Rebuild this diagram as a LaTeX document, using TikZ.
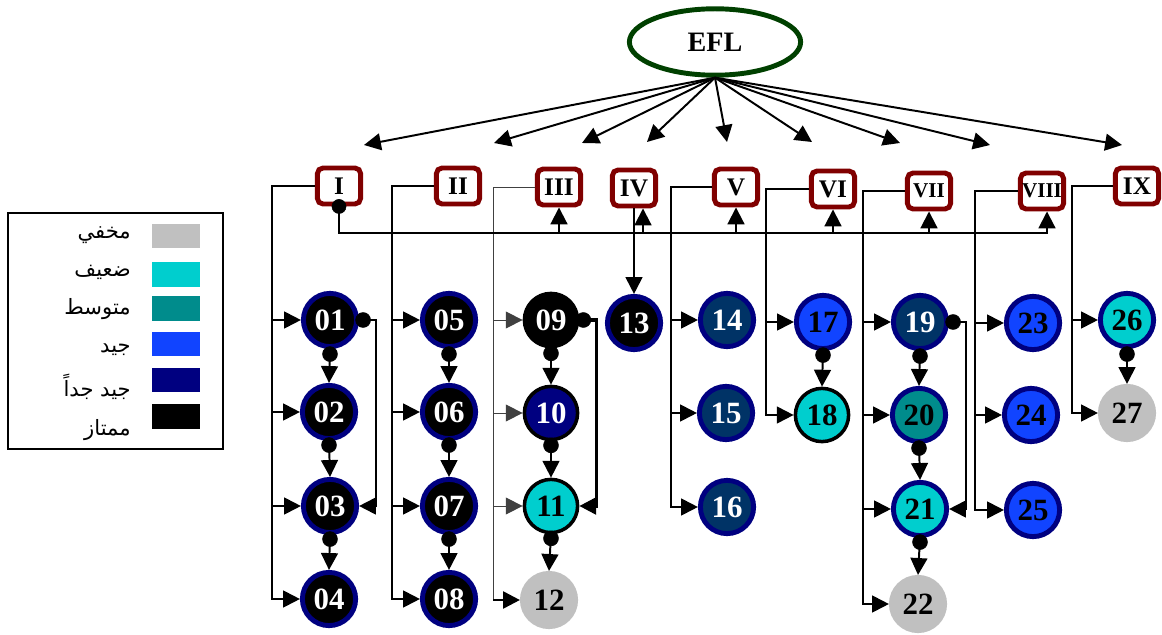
\documentclass[tikz,border=0pt]{standalone}
\usepackage{fontspec}
\setmainfont{Liberation Serif}
\newfontfamily\arabicfont[Script=Arabic]{DejaVu Sans}
\TeXXeTstate=1
\usepackage{xcolor}
\usepackage{tikz}
\usetikzlibrary{arrows.meta,shapes,calc}

\definecolor{eflgreen}{RGB}{0,64,0}
\definecolor{boxred}{RGB}{128,0,0}
\definecolor{ringnavy}{RGB}{0,0,128}
\definecolor{hidegray}{RGB}{192,192,192}
\definecolor{weakcyan}{RGB}{0,206,206}
\definecolor{midteal}{RGB}{0,140,140}
\definecolor{goodblue}{RGB}{17,68,255}
\definecolor{deepblue}{RGB}{0,51,102}

\tikzset{
  link/.style={black, line width=1.4pt},
  arr/.style={link, -{Triangle[length=12pt,width=12pt]}},
  faint/.style={black!75, line width=0.7pt},
  faintarr/.style={faint, -{Triangle[length=12pt,width=12pt]}},
  unit/.style={draw=boxred, line width=3.5pt, rounded corners=4pt, fill=white,
    minimum width=1.08cm, minimum height=0.9cm, inner sep=0pt,
    font=\fontsize{18}{18}\selectfont\bfseries},
  smallunit/.style={unit, font=\fontsize{15}{15}\selectfont\bfseries},
  skill/.style={circle, minimum size=1.33cm, inner sep=0pt, line width=3.5pt,
    font=\fontsize{22}{22}\selectfont\bfseries},
  excellent/.style={skill, fill=black, draw=ringnavy, text=white},
  vgood/.style={skill, fill=deepblue, draw=ringnavy, text=white},
  good/.style={skill, fill=goodblue, draw=ringnavy},
  mid/.style={skill, fill=midteal, draw=ringnavy},
  weak/.style={skill, fill=weakcyan, draw=ringnavy},
  hidden/.style={skill, fill=hidegray, draw=hidegray},
  legendtext/.style={anchor=east, inner sep=0pt, font=\arabicfont\fontsize{15}{17}\selectfont},
}

\begin{document}
\begin{tikzpicture}[x=0.025cm, y=-0.025cm]
\useasboundingbox (0,0) rectangle (1162,635);

% top
\node[ellipse, draw=eflgreen, line width=3.5pt, minimum width=4.28cm, minimum height=1.66cm,
  font=\fontsize{20}{20}\selectfont\bfseries] (EFL) at (715,42) {EFL};

\node[unit] (u1) at (339,186) {I};
\node[unit] (u2) at (458,186) {II};
\node[unit] (u3) at (559,187) {III};
\node[unit] (u4) at (634,188) {IV};
\node[unit] (u5) at (736,187) {V};
\node[unit] (u6) at (833,189) {VI};
\node[smallunit] (u7) at (929,191) {VII};
\node[smallunit] (u8) at (1042,191) {VIII};
\node[unit] (u9) at (1137,186) {IX};

\coordinate (t1) at (364,145);
\coordinate (t2) at (494,143);
\coordinate (t3) at (582,143);
\coordinate (t4) at (647,142);
\coordinate (t5) at (727,142);
\coordinate (t6) at (812,142);
\coordinate (t7) at (900,143);
\coordinate (t8) at (990,145);
\coordinate (t9) at (1122,145);
\draw[arr] (EFL.south) -- (t1);
\draw[arr] (EFL.south) -- (t2);
\draw[arr] (EFL.south) -- (t3);
\draw[arr] (EFL.south) -- (t4);
\draw[arr] (EFL.south) -- (t5);
\draw[arr] (EFL.south) -- (t6);
\draw[arr] (EFL.south) -- (t7);
\draw[arr] (EFL.south) -- (t8);
\draw[arr] (EFL.south) -- (t9);

% skills
\node[excellent] (c01) at (330,320) {01};
\node[excellent] (c02) at (329,412) {02};
\node[excellent] (c03) at (330,506) {03};
\node[excellent] (c04) at (329,599) {04};
\node[excellent] (c05) at (449,320) {05};
\node[excellent] (c06) at (449,412) {06};
\node[excellent] (c07) at (449,506) {07};
\node[excellent] (c08) at (449,599) {08};
\node[skill, fill=black, draw=black, line width=2.5pt, text=white] (c09) at (551,320) {09};
\node[skill, fill=ringnavy, draw=black, line width=2.5pt, text=white] (c10) at (551,413) {10};
\node[skill, fill=weakcyan, draw=black, line width=2.5pt] (c11) at (551,506) {11};
\node[hidden] (c12) at (549,600) {12};
\node[excellent] (c13) at (634,323) {13};
\node[vgood] (c14) at (727,320) {14};
\node[vgood] (c15) at (726,413) {15};
\node[vgood] (c16) at (727,507) {16};
\node[good] (c17) at (823,322) {17};
\node[skill, fill=weakcyan, draw=black, line width=2.5pt] (c18) at (822,415) {18};
\node[vgood] (c19) at (920,322) {19};
\node[mid] (c20) at (919,415) {20};
\node[weak] (c21) at (920,509) {21};
\node[hidden] (c22) at (918,604) {22};
\node[good] (c23) at (1033,323) {23};
\node[good] (c24) at (1031,415) {24};
\node[good] (c25) at (1033,510) {25};
\node[weak] (c26) at (1127,320) {26};
\node[hidden] (c27) at (1127,413) {27};

% buses
\coordinate (b1) at (272,0);
\coordinate (b2) at (392,0);
\coordinate (b3) at (493,0);
\coordinate (b5) at (671,0);
\coordinate (b6) at (766,0);
\coordinate (b7) at (863,0);
\coordinate (b8) at (975,0);
\coordinate (b9) at (1072,0);

\draw[arr] (u1.west) -- (u1.west -| b1) |- (c04.west);
\draw[arr] (b1 |- c01.west) -- (c01.west);
\draw[arr] (b1 |- c02.west) -- (c02.west);
\draw[arr] (b1 |- c03.west) -- (c03.west);

\draw[arr] (u2.west) -- (u2.west -| b2) |- (c08.west);
\draw[arr] (b2 |- c05.west) -- (c05.west);
\draw[arr] (b2 |- c06.west) -- (c06.west);
\draw[arr] (b2 |- c07.west) -- (c07.west);

\draw[faint] (u3.west) -- (u3.west -| b3) -- (b3 |- c12.west);
\draw[arr, line width=2pt] (b3 |- c12.west) -- (c12.west);
\draw[faintarr] (b3 |- c09.west) -- (c09.west);
\draw[faintarr] (b3 |- c10.west) -- (c10.west);
\draw[faintarr] (b3 |- c11.west) -- (c11.west);

\draw[arr] (u4.south) -- (c13.north);

\draw[arr] (u5.west) -- (u5.west -| b5) |- (c16.west);
\draw[arr] (b5 |- c14.west) -- (c14.west);
\draw[arr] (b5 |- c15.west) -- (c15.west);

\draw[arr] (u6.west) -- (u6.west -| b6) |- (c18.west);
\draw[arr] (b6 |- c17.west) -- (c17.west);

\draw[arr] (u7.west) -- (u7.west -| b7) |- (c22.west);
\draw[arr] (b7 |- c19.west) -- (c19.west);
\draw[arr] (b7 |- c20.west) -- (c20.west);
\draw[arr] (b7 |- c21.west) -- (c21.west);

\draw[arr] (u8.west) -- (u8.west -| b8) |- (c25.west);
\draw[arr] (b8 |- c23.west) -- (c23.west);
\draw[arr] (b8 |- c24.west) -- (c24.west);

\draw[arr] (u9.west) -- (u9.west -| b9) |- (c27.west);
\draw[arr] (b9 |- c26.west) -- (c26.west);

% rail under the units
\coordinate (rail) at (0,233);
\draw[arr] (u1.south) -- (u1.south |- rail) -| ($(u8.south)+(5,0)$);
\draw[arr] (u3.south |- rail) -- (u3.south);
\draw[arr] ($(u4.south |- rail)+(9,0)$) -- ($(u4.south)+(9,0)$);
\draw[arr] (u5.south |- rail) -- (u5.south);
\draw[arr] (u6.south |- rail) -- (u6.south);
\draw[arr] (u7.south |- rail) -- (u7.south);
\filldraw[black] (u1.south) circle (5pt);

% chains
\draw[arr] (c01.south) -- (c02.north);
\draw[arr] (c02.south) -- (c03.north);
\draw[arr] (c03.south) -- (c04.north);
\draw[arr] (c05.south) -- (c06.north);
\draw[arr] (c06.south) -- (c07.north);
\draw[arr] (c07.south) -- (c08.north);
\draw[arr] (c09.south) -- (c10.north);
\draw[arr] (c10.south) -- (c11.north);
\draw[arr] (c11.south) -- (c12.north);
\draw[arr] (c17.south) -- (c18.north);
\draw[arr] (c19.south) -- (c20.north);
\draw[arr] (c20.south) -- (c21.north);
\draw[arr] (c21.south) -- (c22.north);
\draw[arr] (c26.south) -- (c27.north);
\draw[arr] (c01.east) -- ++(17,0) |- (c03.east);
\draw[arr, line width=2.2pt] (c09.east) -- ++(17,0) |- (c11.east);
\draw[arr] (c19.east) -- ++(17,0) |- (c21.east);

\filldraw[black] ($(c01.south)+(0,5)$) circle (5.3pt);
\filldraw[black] ($(c02.south)+(0,4)$) circle (5.3pt);
\filldraw[black] ($(c03.south)+(0,4)$) circle (5.3pt);
\filldraw[black] ($(c05.south)+(0,5)$) circle (5.3pt);
\filldraw[black] ($(c06.south)+(0,4)$) circle (5.3pt);
\filldraw[black] ($(c07.south)+(0,4)$) circle (5.3pt);
\filldraw[black] ($(c09.south)+(0,5)$) circle (5.3pt);
\filldraw[black] ($(c10.south)+(0,4)$) circle (5.3pt);
\filldraw[black] ($(c11.south)+(0,4)$) circle (5.3pt);
\filldraw[black] ($(c17.south)+(0,4)$) circle (5.3pt);
\filldraw[black] ($(c19.south)+(0,5)$) circle (5.3pt);
\filldraw[black] ($(c20.south)+(0,4)$) circle (5.3pt);
\filldraw[black] ($(c21.south)+(0,4)$) circle (5.3pt);
\filldraw[black] ($(c26.south)+(0,5)$) circle (5.3pt);
\filldraw[black] ($(c01.east)+(4,0)$) circle (5.3pt);
\filldraw[black] ($(c09.east)+(4,0)$) circle (5.3pt);
\filldraw[black] ($(c19.east)+(4,0)$) circle (5.3pt);

% legend
\draw[line width=1.4pt] (8,213) rectangle (223,449);
\fill[hidegray] (152,224) rectangle (200,248);
\fill[weakcyan] (152,262) rectangle (200,287);
\fill[midteal] (152,296) rectangle (200,321);
\fill[goodblue] (152,332) rectangle (200,356);
\fill[ringnavy] (152,368) rectangle (200,392);
\fill[black] (152,404) rectangle (200,429);
\node[legendtext] (k1) at (131,235) {\beginR مخفي\endR};
\node[legendtext] (k2) at (131,272) {\beginR ضعيف\endR};
\node[legendtext] (k3) at (131,309) {\beginR متوسط\endR};
\node[legendtext] (k4) at (131,350) {\beginR جيد\endR};
\node[legendtext] (k5) at (131,387) {\beginR جيد جداً\endR};
\node[legendtext] (k6) at (131,430) {\beginR ممتاز\endR};

\end{tikzpicture}
\end{document}
